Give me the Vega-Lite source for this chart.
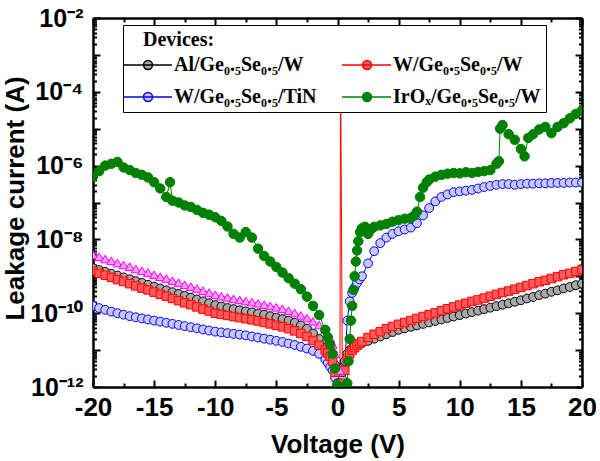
{
"$schema":"https://vega.github.io/schema/vega-lite/v6.json",
"width":489,"height":369,
"autosize":{"type":"none"},
"padding":{"left":93,"top":18,"right":18,"bottom":74},
"background":"white",
"config":{"view":{"stroke":null}},
"data":{"values":[
{"V":-20,"a":1.58e-10,"b":1.66e-9,"c":1.38e-9,"d":3.80e-9,"e":5.01e-7},
{"V":-19.5,"a":1.38e-10,"b":1.48e-9,"c":1.20e-9,"d":3.39e-9,"e":7.08e-7},
{"V":-19,"a":1.23e-10,"b":1.32e-9,"c":1.07e-9,"d":2.95e-9,"e":1.0e-6},
{"V":-18.5,"a":1.10e-10,"b":1.17e-9,"c":9.33e-10,"d":2.63e-9,"e":1.12e-6},
{"V":-18,"a":1.0e-10,"b":1.05e-9,"c":8.13e-10,"d":2.29e-9,"e":1.26e-6},
{"V":-17.5,"a":9.12e-11,"b":9.33e-10,"c":7.24e-10,"d":2.04e-9,"e":8.91e-7},
{"V":-17,"a":8.32e-11,"b":8.32e-10,"c":6.31e-10,"d":1.82e-9,"e":7.59e-7},
{"V":-16.5,"a":7.76e-11,"b":7.41e-10,"c":5.50e-10,"d":1.58e-9,"e":6.31e-7},
{"V":-16,"a":7.24e-11,"b":6.61e-10,"c":4.79e-10,"d":1.41e-9,"e":5.62e-7},
{"V":-15.5,"a":6.76e-11,"b":5.89e-10,"c":4.27e-10,"d":1.26e-9,"e":4.79e-7},
{"V":-15,"a":6.31e-11,"b":5.25e-10,"c":3.72e-10,"d":1.10e-9,"e":3.55e-7},
{"V":-14.5,"a":5.89e-11,"b":4.68e-10,"c":3.24e-10,"d":9.77e-10,"e":2.40e-7},
{"V":-14,"a":5.50e-11,"b":4.17e-10,"c":2.88e-10,"d":8.71e-10,"e":1.41e-7},
{"V":-13.7,"e":3.55e-7},
{"V":-13.5,"a":5.13e-11,"b":3.72e-10,"c":2.51e-10,"d":7.59e-10,"e":1.12e-7},
{"V":-13,"a":4.79e-11,"b":3.31e-10,"c":2.19e-10,"d":6.76e-10,"e":1.0e-7},
{"V":-12.5,"a":4.47e-11,"b":2.95e-10,"c":1.91e-10,"d":5.89e-10,"e":8.32e-8},
{"V":-12,"a":4.17e-11,"b":2.63e-10,"c":1.70e-10,"d":5.25e-10,"e":7.59e-8},
{"V":-11.5,"a":3.89e-11,"b":2.34e-10,"c":1.48e-10,"d":4.68e-10,"e":6.31e-8},
{"V":-11,"a":3.63e-11,"b":2.09e-10,"c":1.29e-10,"d":4.07e-10,"e":5.25e-8},
{"V":-10.5,"a":3.39e-11,"b":1.86e-10,"c":1.15e-10,"d":3.63e-10,"e":4.68e-8},
{"V":-10,"a":3.16e-11,"b":1.66e-10,"c":1.0e-10,"d":3.16e-10,"e":3.98e-8},
{"V":-9.5,"a":3.02e-11,"b":1.51e-10,"c":9.33e-11,"d":2.88e-10,"e":3.16e-8},
{"V":-9,"a":2.88e-11,"b":1.38e-10,"c":8.71e-11,"d":2.69e-10,"e":2.24e-8},
{"V":-8.5,"a":2.75e-11,"b":1.29e-10,"c":8.13e-11,"d":2.45e-10,"e":1.41e-8},
{"V":-8,"a":2.63e-11,"b":1.20e-10,"c":7.59e-11,"d":2.29e-10,"e":1.12e-8},
{"V":-7.5,"a":2.51e-11,"b":1.12e-10,"c":7.08e-11,"d":2.14e-10,"e":1.58e-8},
{"V":-7,"a":2.34e-11,"b":1.05e-10,"c":6.61e-11,"d":2.0e-10,"e":1.12e-8},
{"V":-6.5,"a":2.19e-11,"b":9.77e-11,"c":6.17e-11,"d":1.86e-10,"e":5.62e-9},
{"V":-6,"a":2.04e-11,"b":9.12e-11,"c":5.62e-11,"d":1.70e-10,"e":3.55e-9},
{"V":-5.5,"a":1.91e-11,"b":8.32e-11,"c":5.13e-11,"d":1.58e-10,"e":2.51e-9},
{"V":-5,"a":1.78e-11,"b":7.59e-11,"c":4.68e-11,"d":1.45e-10,"e":1.78e-9},
{"V":-4.5,"a":1.66e-11,"b":6.92e-11,"c":4.27e-11,"d":1.32e-10,"e":1.26e-9},
{"V":-4,"a":1.51e-11,"b":6.31e-11,"c":3.80e-11,"d":1.17e-10,"e":8.91e-10},
{"V":-3.5,"a":1.38e-11,"b":5.50e-11,"c":3.31e-11,"d":1.02e-10,"e":6.31e-10},
{"V":-3,"a":1.23e-11,"b":4.68e-11,"c":2.82e-11,"d":8.71e-11,"e":4.47e-10},
{"V":-2.5,"a":1.10e-11,"b":3.80e-11,"c":2.34e-11,"d":7.41e-11,"e":2.82e-10},
{"V":-2,"a":9.55e-12,"b":2.82e-11,"c":1.82e-11,"d":6.03e-11,"e":1.58e-10},
{"V":-1.5,"a":7.94e-12,"b":2.00e-11,"c":1.35e-11,"d":4.79e-11,"e":8.91e-11},
{"V":-1,"a":5.62e-12,"b":1.51e-11,"c":1.0e-11,"d":3.55e-11,"e":3.55e-11},
{"V":-0.8,"a":4.47e-12,"b":1.26e-11,"c":8.32e-12,"d":2.82e-11,"e":2.24e-11},
{"V":-0.6,"a":3.55e-12,"b":1.0e-11,"c":6.76e-12,"d":2.09e-11,"e":1.41e-11},
{"V":-0.4,"a":2.82e-12,"b":7.08e-12,"c":5.01e-12,"d":1.41e-11,"e":7.94e-12},
{"V":-0.2,"a":1.78e-12,"b":3.98e-12,"c":2.51e-12,"d":7.94e-12,"e":3.16e-12},
{"V":0,"a":1e-12,"b":1.26e-12,"c":1e-12,"d":3.16e-12,"e":1.12e-12},
{"V":0.2,"a":1e-12,"b":1.26e-12,"c":1e-12,"d":2.82e-12},
{"V":0.25,"c":1e-3},
{"V":0.4,"a":1.58e-12,"b":2.51e-12,"c":1.26e-12,"e":1e-12},
{"V":0.6,"a":4.47e-12,"b":5.01e-12,"c":2.82e-12,"e":1e-12},
{"V":0.8,"a":6.31e-11,"b":7.94e-12,"c":5.62e-12,"e":1.26e-12},
{"V":0.9,"e":5.01e-12},
{"V":1.0,"a":2.09e-10,"b":1.0e-11,"c":7.94e-12,"e":2.0e-11},
{"V":1.1,"e":6.31e-11},
{"V":1.2,"a":3.55e-10,"b":1.12e-11,"c":1.0e-11,"e":1.58e-10},
{"V":1.3,"e":4.27e-10},
{"V":1.4,"a":5.01e-10,"b":1.26e-11,"c":1.17e-11,"e":1.0e-9},
{"V":1.5,"e":2.51e-9},
{"V":1.6,"a":6.61e-10,"b":1.35e-11,"c":1.35e-11,"e":5.01e-9},
{"V":1.7,"e":8.91e-9},
{"V":1.8,"a":8.32e-10,"b":1.45e-11,"c":1.51e-11},
{"V":1.85,"e":1.58e-8},
{"V":2.0,"a":1.0e-9,"b":1.58e-11,"c":1.70e-11,"e":2.0e-8},
{"V":2.25,"e":2.19e-8},
{"V":2.5,"a":2.24e-9,"b":1.78e-11,"c":2.19e-11,"e":1.41e-8},
{"V":2.75,"e":1.91e-8},
{"V":3.0,"a":4.79e-9,"b":2.04e-11,"c":2.69e-11,"e":2.19e-8},
{"V":3.5,"a":7.94e-9,"b":2.34e-11,"c":3.16e-11,"e":2.40e-8},
{"V":4.0,"a":1.12e-8,"b":2.69e-11,"c":3.80e-11,"e":2.63e-8},
{"V":4.5,"a":1.41e-8,"b":3.09e-11,"c":4.37e-11,"e":3.02e-8},
{"V":5.0,"a":1.66e-8,"b":3.55e-11,"c":5.01e-11,"e":3.31e-8},
{"V":5.5,"a":1.86e-8,"b":3.89e-11,"c":5.62e-11,"e":3.63e-8},
{"V":6.0,"a":2.09e-8,"b":4.27e-11,"c":6.31e-11,"e":3.80e-8},
{"V":6.3,"e":4.47e-8},
{"V":6.5,"a":2.75e-8,"b":4.68e-11,"c":7.24e-11,"e":5.62e-8},
{"V":6.75,"e":1.41e-7},
{"V":7.0,"a":4.47e-8,"b":5.13e-11,"c":8.13e-11,"e":2.51e-7},
{"V":7.3,"e":3.55e-7},
{"V":7.5,"a":7.08e-8,"b":5.62e-11,"c":9.12e-11,"e":4.17e-7},
{"V":8.0,"a":1.07e-7,"b":6.17e-11,"c":1.02e-10,"e":5.01e-7},
{"V":8.5,"a":1.41e-7,"b":6.76e-11,"c":1.17e-10,"e":5.62e-7},
{"V":9.0,"a":1.66e-7,"b":7.41e-11,"c":1.32e-10,"e":6.03e-7},
{"V":9.5,"a":1.91e-7,"b":8.13e-11,"c":1.48e-10,"e":6.31e-7},
{"V":10,"a":2.0e-7,"b":8.91e-11,"c":1.66e-10,"e":6.17e-7},
{"V":10.5,"a":2.09e-7,"b":9.77e-11,"c":1.86e-10,"e":6.61e-7},
{"V":11,"a":2.19e-7,"b":1.07e-10,"c":2.09e-10,"e":6.31e-7},
{"V":11.5,"a":2.40e-7,"b":1.17e-10,"c":2.29e-10,"e":6.76e-7},
{"V":12,"a":2.63e-7,"b":1.29e-10,"c":2.57e-10,"e":7.08e-7},
{"V":12.5,"a":2.82e-7,"b":1.41e-10,"c":2.88e-10,"e":7.59e-7},
{"V":13,"a":3.02e-7,"b":1.55e-10,"c":3.24e-10,"e":1.12e-6},
{"V":13.2,"e":1.32e-6},
{"V":13.3,"e":1.0e-5},
{"V":13.5,"a":3.16e-7,"b":1.70e-10,"c":3.63e-10,"e":1.26e-5},
{"V":14,"a":3.16e-7,"b":1.86e-10,"c":3.98e-10,"e":7.08e-6},
{"V":14.5,"a":3.02e-7,"b":2.04e-10,"c":4.47e-10,"e":5.01e-6},
{"V":15,"a":3.16e-7,"b":2.24e-10,"c":5.01e-10,"e":2.82e-6},
{"V":15.3,"e":1.78e-6},
{"V":15.5,"a":3.24e-7,"b":2.51e-10,"c":5.62e-10},
{"V":15.6,"e":5.62e-6},
{"V":16,"a":3.24e-7,"b":2.75e-10,"c":6.31e-10,"e":7.08e-6},
{"V":16.5,"a":3.31e-7,"b":3.09e-10,"c":7.08e-10,"e":9.55e-6},
{"V":17,"a":3.31e-7,"b":3.39e-10,"c":7.76e-10,"e":1.12e-5},
{"V":17.5,"a":3.39e-7,"b":3.80e-10,"c":8.71e-10,"e":7.59e-6},
{"V":18,"a":3.39e-7,"b":4.17e-10,"c":9.77e-10,"e":1.12e-5},
{"V":18.5,"a":3.39e-7,"b":4.68e-10,"c":1.10e-9,"e":1.41e-5},
{"V":19,"a":3.47e-7,"b":5.13e-10,"c":1.20e-9,"e":1.91e-5},
{"V":19.5,"a":3.47e-7,"b":5.75e-10,"c":1.35e-9,"e":2.51e-5},
{"V":20,"a":3.47e-7,"b":6.31e-10,"c":1.51e-9,"e":3.16e-5}
]},
"transform":[{"fold":["a","b","c","d","e"],"as":["series","I"]},{"filter":"isValid(datum.I)"}],
"layer":[
{"encoding":{
"x":{"field":"V","type":"quantitative","scale":{"domain":[-20,20],"nice":false,"zero":false},
"axis":{"orient":"bottom","values":[-20,-17.5,-15,-12.5,-10,-7.5,-5,-2.5,0,2.5,5,7.5,10,12.5,15,17.5,20],"labelExpr":"datum.value % 5 == 0 ? '' + datum.value : ''","tickSize":{"condition":{"test":"datum.value % 5 == 0","value":-7},"value":-4},"grid":false,"domainColor":"black","domainWidth":2.5,"tickColor":"black","tickWidth":2,"labelFont":"Liberation Sans","labelFontSize":26,"labelFontWeight":"bold","labelColor":"black","labelPadding":14,"labelFlush":false,"labelOverlap":false,"title":"Voltage (V)","titleFont":"Liberation Sans","titleFontSize":26,"titleFontWeight":"bold","titleColor":"black","titlePadding":8}},
"y":{"field":"I","type":"quantitative","scale":{"type":"log","domain":[1e-12,1e-2],"nice":false},
"axis":{"orient":"left","values":[1e-12,2e-12,3e-12,4e-12,5e-12,6e-12,7e-12,8e-12,9e-12,1e-11,2e-11,3e-11,4e-11,5e-11,6e-11,7e-11,8e-11,9e-11,1e-10,2e-10,3e-10,4e-10,5e-10,6e-10,7e-10,8e-10,9e-10,1e-9,2e-9,3e-9,4e-9,5e-9,6e-9,7e-9,8e-9,9e-9,1e-8,2e-8,3e-8,4e-8,5e-8,6e-8,7e-8,8e-8,9e-8,1e-7,2e-7,3e-7,4e-7,5e-7,6e-7,7e-7,8e-7,9e-7,1e-6,2e-6,3e-6,4e-6,5e-6,6e-6,7e-6,8e-6,9e-6,1e-5,2e-5,3e-5,4e-5,5e-5,6e-5,7e-5,8e-5,9e-5,1e-4,2e-4,3e-4,4e-4,5e-4,6e-4,7e-4,8e-4,9e-4,1e-3,2e-3,3e-3,4e-3,5e-3,6e-3,7e-3,8e-3,9e-3,1e-2],
"labelExpr":"abs(log(datum.value)/LN10 - round(log(datum.value)/LN10)) > 0.001 ? '' : round(log(datum.value)/LN10) == -2 ? '10⁻²' : round(log(datum.value)/LN10) == -4 ? '10⁻⁴' : round(log(datum.value)/LN10) == -6 ? '10⁻⁶' : round(log(datum.value)/LN10) == -8 ? '10⁻⁸' : round(log(datum.value)/LN10) == -10 ? '10⁻¹⁰' : round(log(datum.value)/LN10) == -12 ? '10⁻¹²' : ''",
"tickSize":{"condition":{"test":"abs(log(datum.value)/LN10 - round(log(datum.value)/LN10)) < 0.001","value":-7},"value":-3.5},"grid":false,"domainColor":"black","domainWidth":2.5,"tickColor":"black","tickWidth":2,"labelFont":"Liberation Sans","labelFontSize":25,"labelFontWeight":"bold","labelColor":"black","labelPadding":17,"labelFlush":false,"labelOverlap":false,"title":"Leakage current (A)","titleFont":"Liberation Sans","titleFontSize":26,"titleFontWeight":"bold","titleColor":"black","titleX":-78,"titleY":180,"titleBaseline":"middle"}}},
"layer":[
{"mark":{"type":"line","strokeWidth":1,"clip":true},
"encoding":{"stroke":{"field":"series","type":"nominal","scale":{"domain":["b","c","a","e","d"],"range":["#000000","#ff0000","#0000ff","#008000","#ff00ff"]},
"legend":{"orient":"none","legendX":30,"legendY":7,"direction":"horizontal","columns":2,"title":"\u2800Devices:","values":["b","c","a","e"],"labelExpr":"datum.value == 'b' ? 'Al/Ge₀.₅Se₀.₅/W' : datum.value == 'c' ? 'W/Ge₀.₅Se₀.₅/W' : datum.value == 'a' ? 'W/Ge₀.₅Se₀.₅/TiN' : 'IrOₓ/Ge₀.₅Se₀.₅/W'","symbolType":"M-1.6,0H3.3M0.45,0A0.45,0.45,0,1,1,1.35,0A0.45,0.45,0,1,1,0.45,0Z","symbolSize":400,"symbolStrokeWidth":1.5,"labelOffset":24,"labelFont":"Liberation Serif","labelFontSize":20,"labelFontWeight":"bold","labelColor":"black","labelLimit":300,"titleFont":"Liberation Serif","titleFontSize":20,"titleFontWeight":"bold","titleColor":"black","titlePadding":4,"strokeColor":"black","fillColor":"white","padding":5,"columnPadding":22,"rowPadding":11}}}},
{"transform":[{"filter":"datum.series == 'a'"}],
"mark":{"type":"point","shape":"circle","filled":true,"size":78,"strokeWidth":1,"opacity":1,"clip":true},
"encoding":{
"stroke":{"field":"series","type":"nominal","scale":{"domain":["b","c","a","e","d"],"range":["#000000","#ff0000","#0000ff","#008000","#ff00ff"]},
"legend":{"orient":"none","legendX":30,"legendY":7,"direction":"horizontal","columns":2,"title":"\u2800Devices:","values":["b","c","a","e"],"labelExpr":"datum.value == 'b' ? 'Al/Ge₀.₅Se₀.₅/W' : datum.value == 'c' ? 'W/Ge₀.₅Se₀.₅/W' : datum.value == 'a' ? 'W/Ge₀.₅Se₀.₅/TiN' : 'IrOₓ/Ge₀.₅Se₀.₅/W'","symbolType":"M-1.6,0H3.3M0.45,0A0.45,0.45,0,1,1,1.35,0A0.45,0.45,0,1,1,0.45,0Z","symbolSize":400,"symbolStrokeWidth":1.5,"labelOffset":24,"labelFont":"Liberation Serif","labelFontSize":20,"labelFontWeight":"bold","labelColor":"black","labelLimit":300,"titleFont":"Liberation Serif","titleFontSize":20,"titleFontWeight":"bold","titleColor":"black","titlePadding":4,"strokeColor":"black","fillColor":"white","padding":5,"columnPadding":22,"rowPadding":11}},
"fill":{"field":"series","type":"nominal","scale":{"domain":["b","c","a","e","d"],"range":["#a8a8a8","#ff5a5a","#c8c8ff","#008000","#ff9cff"]},
"legend":{"orient":"none","legendX":30,"legendY":7,"direction":"horizontal","columns":2,"title":"\u2800Devices:","values":["b","c","a","e"],"labelExpr":"datum.value == 'b' ? 'Al/Ge₀.₅Se₀.₅/W' : datum.value == 'c' ? 'W/Ge₀.₅Se₀.₅/W' : datum.value == 'a' ? 'W/Ge₀.₅Se₀.₅/TiN' : 'IrOₓ/Ge₀.₅Se₀.₅/W'","symbolType":"M-1.6,0H3.3M0.45,0A0.45,0.45,0,1,1,1.35,0A0.45,0.45,0,1,1,0.45,0Z","symbolSize":400,"symbolStrokeWidth":1.5,"labelOffset":24,"labelFont":"Liberation Serif","labelFontSize":20,"labelFontWeight":"bold","labelColor":"black","labelLimit":300,"titleFont":"Liberation Serif","titleFontSize":20,"titleFontWeight":"bold","titleColor":"black","titlePadding":4,"strokeColor":"black","fillColor":"white","padding":5,"columnPadding":22,"rowPadding":11}}}},
{"transform":[{"filter":"datum.series == 'b'"}],
"mark":{"type":"point","shape":"circle","filled":true,"size":78,"strokeWidth":1,"opacity":1,"clip":true},
"encoding":{"stroke":{"field":"series","type":"nominal"},"fill":{"field":"series","type":"nominal"}}},
{"transform":[{"filter":"datum.series == 'c'"}],
"mark":{"type":"point","shape":"square","filled":true,"size":72,"strokeWidth":1,"opacity":1,"clip":true},
"encoding":{"stroke":{"field":"series","type":"nominal"},"fill":{"field":"series","type":"nominal"}}},
{"transform":[{"filter":"datum.series == 'd'"}],
"mark":{"type":"point","shape":"triangle-up","filled":true,"size":78,"strokeWidth":1,"opacity":1,"clip":true},
"encoding":{"stroke":{"field":"series","type":"nominal"},"fill":{"field":"series","type":"nominal"}}},
{"transform":[{"filter":"datum.series == 'e'"}],
"mark":{"type":"point","shape":"circle","filled":true,"size":90,"strokeWidth":1,"opacity":1,"clip":true},
"encoding":{"stroke":{"field":"series","type":"nominal"},"fill":{"field":"series","type":"nominal"}}}
]},
{"mark":{"type":"point","opacity":0},
"encoding":{
"x":{"field":"V","type":"quantitative","scale":{"domain":[-20,20],"nice":false,"zero":false},
"axis":{"orient":"top","values":[-20,-17.5,-15,-12.5,-10,-7.5,-5,-2.5,0,2.5,5,7.5,10,12.5,15,17.5,20],"labels":false,"title":null,"tickSize":{"condition":{"test":"datum.value % 5 == 0","value":-7},"value":-4},"grid":false,"domainColor":"black","domainWidth":2.5,"tickColor":"black","tickWidth":2}},
"y":{"field":"I","type":"quantitative","scale":{"type":"log","domain":[1e-12,1e-2],"nice":false},
"axis":{"orient":"right","values":[1e-12,2e-12,3e-12,4e-12,5e-12,6e-12,7e-12,8e-12,9e-12,1e-11,2e-11,3e-11,4e-11,5e-11,6e-11,7e-11,8e-11,9e-11,1e-10,2e-10,3e-10,4e-10,5e-10,6e-10,7e-10,8e-10,9e-10,1e-9,2e-9,3e-9,4e-9,5e-9,6e-9,7e-9,8e-9,9e-9,1e-8,2e-8,3e-8,4e-8,5e-8,6e-8,7e-8,8e-8,9e-8,1e-7,2e-7,3e-7,4e-7,5e-7,6e-7,7e-7,8e-7,9e-7,1e-6,2e-6,3e-6,4e-6,5e-6,6e-6,7e-6,8e-6,9e-6,1e-5,2e-5,3e-5,4e-5,5e-5,6e-5,7e-5,8e-5,9e-5,1e-4,2e-4,3e-4,4e-4,5e-4,6e-4,7e-4,8e-4,9e-4,1e-3,2e-3,3e-3,4e-3,5e-3,6e-3,7e-3,8e-3,9e-3,1e-2],"labels":false,"title":null,"tickSize":{"condition":{"test":"abs(log(datum.value)/LN10 - round(log(datum.value)/LN10)) < 0.001","value":-7},"value":-3.5},"grid":false,"domainColor":"black","domainWidth":2.5,"tickColor":"black","tickWidth":2}}}}
],
"resolve":{"axis":{"x":"independent","y":"independent"}}
}
